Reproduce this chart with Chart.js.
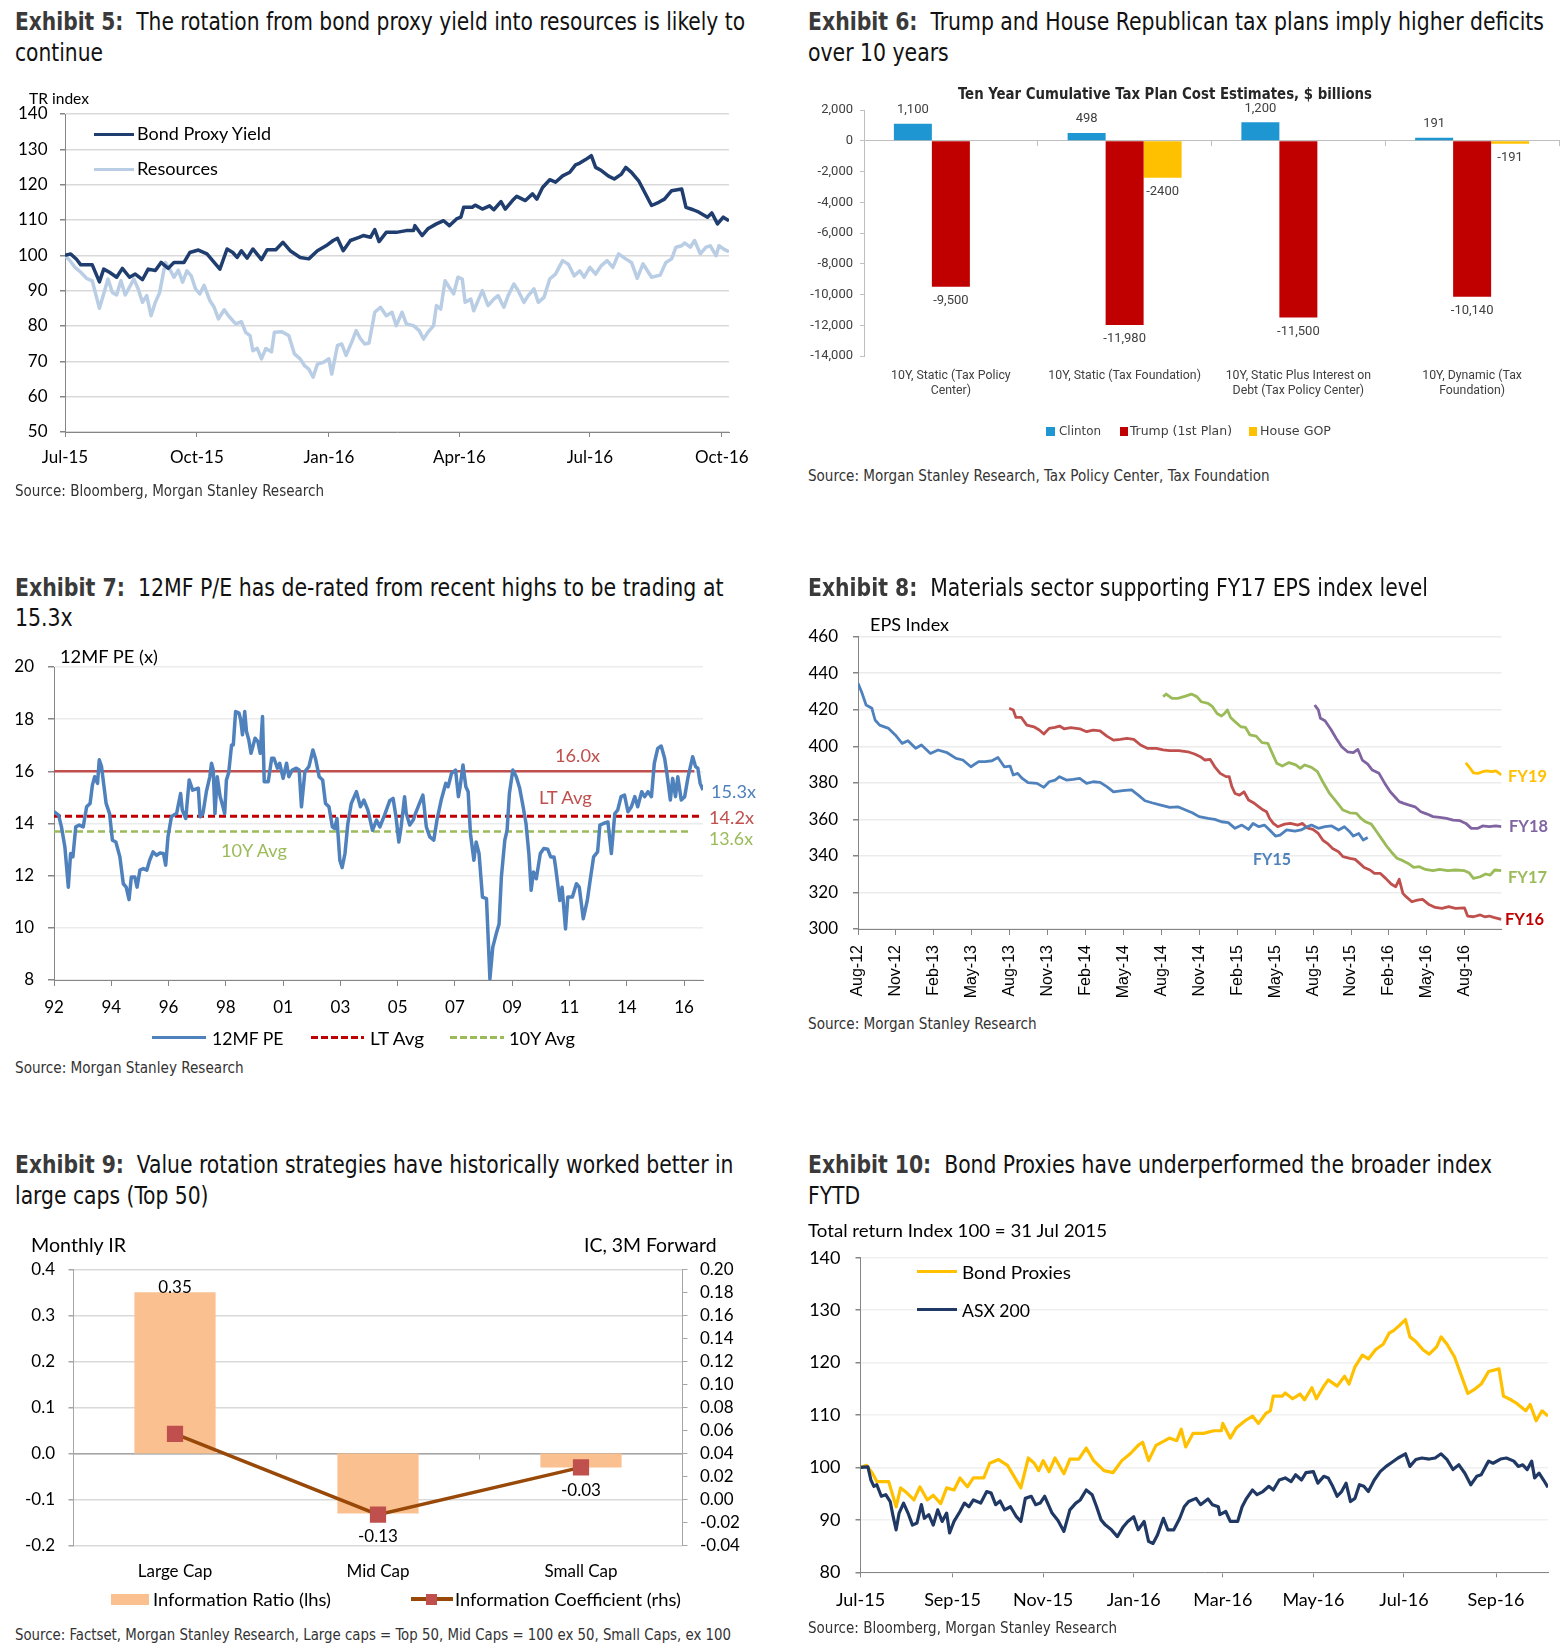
<!DOCTYPE html>
<html>
<head>
<meta charset="utf-8">
<title>Exhibits 5-10</title>
<script src="https://cdn.jsdelivr.net/npm/chart.js@4.4.1/dist/chart.umd.min.js"></script>
<style>
  html, body { margin: 0; padding: 0; background: #fff; }
  body { position: relative; width: 1566px; height: 1652px; overflow: hidden; font-family: Lato, sans-serif; color: #000; }
  canvas { position: absolute; }
  .tx { position: absolute; white-space: nowrap; line-height: 1.15; transform-origin: 0 50%; font-size: 17px; }
  .ttl { font-family: "Liberation Sans Narrow", "Arial Narrow", "DejaVu Sans Condensed", Roboto, sans-serif; font-size: 24px; color: #111; }
  .ttl b { color: #3a3a3a; }
  .src { font-family: "Liberation Sans Narrow", "Arial Narrow", "DejaVu Sans Condensed", Roboto, sans-serif; font-size: 15.5px; color: #333; }
  .nar { font-family: "Liberation Sans Narrow", "Arial Narrow", "DejaVu Sans Condensed", Roboto, sans-serif; }
  .sw { position: absolute; }
</style>
</head>
<body>
<canvas id="c5" width="783" height="415" style="left:0;top:95px"></canvas>
<canvas id="c6" width="783" height="380" style="left:783px;top:75px"></canvas>
<canvas id="c7" width="783" height="410" style="left:0;top:640px"></canvas>
<canvas id="c8" width="783" height="410" style="left:783px;top:600px"></canvas>
<canvas id="c9" width="783" height="390" style="left:0;top:1235px"></canvas>
<canvas id="c10" width="783" height="400" style="left:783px;top:1240px"></canvas>
<script>
// ---- data ----
// exhibit 5 / 10 : [days since 1 Jul 2015, index]
const bondProxy = [[0,100.0],[4,100.4],[8,98.9],[11,97.3],[19,97.3],[24,92.5],[27,96.1],[31,95.2],[36,93.8],[40,96.3],[45,93.8],[49,94.7],[54,93.1],[58,96.1],[63,95.7],[67,98.0],[72,96.3],[76,98.0],[83,98.0],[87,100.8],[93,101.5],[99,100.4],[104,98.0],[108,96.1],[113,101.8],[117,100.8],[120,99.4],[123,101.3],[127,99.2],[131,101.8],[137,98.8],[141,101.6],[147,101.6],[152,103.7],[157,101.3],[164,99.4],[170,99.0],[176,101.3],[182,102.7],[187,104.2],[190,104.8],[194,101.3],[199,104.2],[205,105.1],[208,105.6],[213,105.1],[216,107.3],[219,103.9],[224,106.5],[231,106.5],[238,107.0],[243,107.0],[244,108.4],[249,105.6],[253,107.5],[259,108.9],[264,109.8],[268,108.4],[273,110.3],[276,110.8],[278,113.6],[284,113.6],[286,114.2],[291,113.1],[296,114.0],[299,112.9],[304,115.2],[307,113.1],[312,115.5],[315,116.7],[321,115.5],[326,117.4],[329,115.9],[333,119.2],[338,121.4],[342,120.7],[347,122.5],[352,123.5],[356,125.6],[359,126.1],[363,127.1],[367,128.2],[370,124.9],[374,124.0],[379,122.4],[383,121.6],[388,123.0],[391,124.9],[395,123.5],[400,121.1],[404,118.0],[409,114.1],[414,115.0],[418,115.9],[423,118.3],[430,118.8],[433,113.6],[438,112.9],[442,112.2],[448,110.8],[451,112.0],[455,108.9],[459,110.8],[463,109.8]];
const resources = [[0,100],[4,98.2],[7,96.6],[11,95.2],[15,93.5],[19,92.8],[24,85.0],[27,89.1],[30,93.3],[33,89.5],[36,88.8],[39,92.8],[42,88.8],[45,91.0],[48,93.3],[51,90.5],[54,86.7],[57,88.6],[60,82.9],[63,86.7],[66,89.5],[70,98.0],[73,96.1],[76,93.8],[79,95.8],[82,92.4],[85,95.6],[88,94.2],[91,90.5],[94,89.1],[97,91.5],[101,87.2],[104,85.3],[107,82.0],[111,84.6],[114,82.9],[119,80.6],[123,81.2],[126,78.2],[129,77.3],[131,73.0],[134,73.7],[137,70.7],[140,73.6],[144,72.7],[146,78.2],[151,78.4],[156,77.3],[160,72.1],[164,70.7],[167,68.8],[170,67.8],[173,65.5],[176,69.2],[180,69.7],[184,70.7],[186,66.4],[190,74.5],[193,74.9],[196,71.7],[200,75.5],[203,78.7],[206,76.4],[209,74.9],[212,75.2],[216,83.9],[220,85.3],[224,82.9],[228,83.9],[231,80.1],[235,83.9],[238,80.6],[243,80.1],[247,78.7],[250,76.3],[253,78.2],[257,80.1],[259,85.8],[262,84.8],[265,92.8],[268,90.9],[271,89.1],[274,93.8],[277,93.3],[279,86.7],[283,87.6],[285,84.3],[288,87.2],[291,90.0],[295,85.8],[299,87.6],[302,88.6],[306,85.3],[309,88.6],[313,91.9],[316,90.0],[320,86.7],[323,88.6],[327,90.5],[330,86.7],[334,88.1],[338,93.3],[342,94.7],[347,98.5],[351,97.5],[355,94.2],[359,95.6],[362,93.8],[366,96.6],[370,94.7],[374,97.1],[378,98.5],[382,96.6],[386,100.4],[391,99.0],[395,98.0],[399,93.5],[403,97.6],[409,93.8],[415,94.4],[419,98.0],[423,99.0],[426,102.3],[430,102.7],[432,103.5],[436,102.3],[439,104.2],[443,100.4],[447,102.3],[450,102.7],[454,99.9],[456,102.7],[460,101.6],[463,101.0]];
const asx200 = [[0,100.0],[5,100.1],[7,97.6],[9,96.4],[11,96.7],[14,94.5],[17,94.8],[20,93.5],[22,90.6],[24,88.1],[26,91.3],[29,93.2],[32,91.3],[35,89.0],[38,89.4],[41,92.9],[43,90.3],[46,91.0],[49,89.0],[52,91.9],[55,89.7],[58,91.3],[60,87.5],[63,89.7],[67,91.6],[70,93.2],[73,92.5],[76,93.8],[81,93.2],[85,95.4],[88,95.1],[91,92.9],[94,93.6],[97,91.9],[101,92.5],[105,90.6],[108,89.7],[111,94.1],[115,94.5],[118,92.9],[121,93.2],[124,94.5],[129,91.3],[133,89.9],[137,87.8],[141,91.9],[145,93.2],[148,93.8],[152,95.7],[156,94.8],[159,92.5],[162,90.0],[165,89.0],[169,88.1],[173,86.8],[177,88.7],[180,89.7],[184,90.6],[187,88.1],[191,89.7],[194,85.9],[197,85.5],[200,87.1],[204,90.3],[207,88.1],[211,88.1],[215,90.3],[218,92.5],[221,93.5],[226,94.1],[229,92.9],[234,94.0],[237,92.9],[241,92.5],[242,91.0],[246,91.6],[249,89.7],[254,89.7],[257,92.5],[260,94.1],[264,95.7],[267,94.8],[271,95.4],[275,96.4],[278,95.7],[282,97.6],[286,98.0],[290,97.3],[293,98.6],[297,97.6],[300,99.0],[305,99.2],[308,97.0],[312,98.3],[315,98.0],[318,96.4],[321,94.5],[324,95.4],[327,97.0],[330,93.5],[333,94.1],[336,96.7],[339,96.4],[342,95.4],[346,97.6],[350,99.2],[354,100.2],[357,100.8],[362,101.8],[367,102.6],[370,100.2],[374,101.5],[378,101.8],[383,101.6],[387,101.8],[391,102.6],[395,101.5],[399,99.6],[403,100.5],[407,98.9],[411,96.7],[415,98.3],[418,98.6],[421,100.2],[423,101.2],[426,100.8],[431,101.6],[435,101.8],[440,101.2],[443,100.2],[446,100.5],[449,99.6],[452,101.2],[454,98.0],[457,98.9],[460,97.6],[463,96.2]];
const startDate = '2015-07-01';
const ticks5 = ['2015-07-01','2015-10-01','2016-01-01','2016-04-01','2016-07-01','2016-10-01'];
const labels5 = ['Jul-15','Oct-15','Jan-16','Apr-16','Jul-16','Oct-16'];
const ticks10 = ['2015-07-01','2015-09-01','2015-11-01','2016-01-01','2016-03-01','2016-05-01','2016-07-01','2016-09-01'];
const labels10 = ['Jul-15','Sep-15','Nov-15','Jan-16','Mar-16','May-16','Jul-16','Sep-16'];

// exhibit 6
const cats6 = [['10Y, Static (Tax Policy','Center)'], '10Y, Static (Tax Foundation)', ['10Y, Static Plus Interest on','Debt (Tax Policy Center)'], ['10Y, Dynamic (Tax','Foundation)']];
const clinton = [1100, 498, 1200, 191];
const trump = [-9500, -11980, -11500, -10140];
const houseGop = [null, -2400, null, -191];

// exhibit 7 : [position on year axis, P/E]
const peYears = ['92','94','96','98','01','03','05','07','09','11','14','16'];
const pe12mf = [[0,14.45],[0.08,14.32],[0.13,13.87],[0.19,13.10],[0.25,11.56],[0.29,12.85],[0.33,12.72],[0.38,13.87],[0.44,13.94],[0.51,13.87],[0.57,14.64],[0.63,14.77],[0.67,15.47],[0.71,15.79],[0.76,15.54],[0.79,16.44],[0.83,16.18],[0.87,15.47],[0.91,14.77],[0.97,14.38],[1.02,13.36],[1.08,13.29],[1.15,12.72],[1.21,11.69],[1.26,11.56],[1.31,11.08],[1.35,11.95],[1.41,11.95],[1.45,11.56],[1.50,12.21],[1.56,12.27],[1.62,12.21],[1.67,12.59],[1.73,12.91],[1.79,12.78],[1.85,12.87],[1.91,12.85],[1.95,12.40],[1.99,13.49],[2.05,14.26],[2.09,14.32],[2.14,14.38],[2.21,15.15],[2.24,14.51],[2.30,14.19],[2.36,15.67],[2.42,15.28],[2.52,15.35],[2.55,14.26],[2.60,14.38],[2.66,15.22],[2.72,15.79],[2.75,16.31],[2.78,16.05],[2.81,14.38],[2.85,15.79],[2.90,15.03],[2.95,14.64],[2.98,14.38],[3.01,15.67],[3.05,15.95],[3.10,17.01],[3.13,17.01],[3.17,18.29],[3.23,18.23],[3.26,17.97],[3.29,17.40],[3.33,18.29],[3.36,17.53],[3.40,17.21],[3.44,16.69],[3.51,17.27],[3.56,17.14],[3.60,16.69],[3.64,18.10],[3.67,15.60],[3.74,15.60],[3.80,16.50],[3.84,16.50],[3.90,16.12],[3.94,16.31],[4.00,15.73],[4.06,16.31],[4.10,15.79],[4.16,16.05],[4.23,16.12],[4.28,16.05],[4.32,14.64],[4.38,15.99],[4.45,16.18],[4.52,16.82],[4.57,16.44],[4.63,15.79],[4.69,15.67],[4.74,14.77],[4.80,14.64],[4.86,13.87],[4.90,13.81],[4.94,14.19],[4.99,12.59],[5.03,12.31],[5.08,12.85],[5.13,14.00],[5.19,14.77],[5.28,15.22],[5.35,14.64],[5.41,14.90],[5.48,14.51],[5.56,13.74],[5.63,14.13],[5.69,13.87],[5.77,14.32],[5.86,14.87],[5.92,14.96],[5.97,14.26],[6.02,13.29],[6.06,13.87],[6.12,15.03],[6.15,14.38],[6.21,13.94],[6.27,14.13],[6.31,14.38],[6.38,14.77],[6.44,15.09],[6.50,13.87],[6.56,13.49],[6.63,13.36],[6.69,14.19],[6.76,14.90],[6.84,15.54],[6.88,15.41],[6.94,15.92],[7.01,16.05],[7.06,15.03],[7.09,15.41],[7.14,16.24],[7.19,15.41],[7.23,15.22],[7.27,13.62],[7.33,12.59],[7.37,13.29],[7.42,12.85],[7.48,11.18],[7.55,11.12],[7.61,8.04],[7.66,9.26],[7.72,9.77],[7.77,10.15],[7.81,11.95],[7.87,13.36],[7.91,13.74],[7.95,15.15],[8.01,16.05],[8.07,15.79],[8.13,15.35],[8.19,14.64],[8.24,14.00],[8.29,12.85],[8.33,11.44],[8.37,12.14],[8.42,11.88],[8.49,12.85],[8.55,13.04],[8.62,13.01],[8.67,12.72],[8.73,12.72],[8.76,12.27],[8.83,11.05],[8.87,11.56],[8.93,9.96],[8.97,11.18],[9.05,11.18],[9.12,11.69],[9.17,11.56],[9.24,10.35],[9.31,11.05],[9.36,11.82],[9.42,12.72],[9.49,12.91],[9.53,13.94],[9.59,14.00],[9.67,14.06],[9.73,12.85],[9.79,14.38],[9.84,14.51],[9.90,15.03],[9.96,15.09],[10.02,14.45],[10.08,14.64],[10.14,15.03],[10.19,14.64],[10.26,15.22],[10.31,15.03],[10.37,15.22],[10.43,15.03],[10.48,16.31],[10.54,16.88],[10.60,16.97],[10.66,16.50],[10.70,15.92],[10.76,14.90],[10.80,15.73],[10.85,15.03],[10.89,15.79],[10.95,14.90],[11.01,15.03],[11.07,15.79],[11.11,16.18],[11.15,16.56],[11.20,16.18],[11.24,16.12],[11.28,15.54],[11.33,15.28]];
const peHigh = [[0,16.0],[11.18,16.0]];
const peLtAvg = [[0,14.28],[11.33,14.28]];
const pe10yAvg = [[0,13.69],[11.13,13.69]];

// exhibit 8 : [months since Aug-12, EPS index]
const labels8 = ['Aug-12','Nov-12','Feb-13','May-13','Aug-13','Nov-13','Feb-14','May-14','Aug-14','Nov-14','Feb-15','May-15','Aug-15','Nov-15','Feb-16','May-16','Aug-16'];
const fy15 = [[0,434.5],[0.28,429.9],[0.64,422.6],[1.10,420.8],[1.35,414.4],[1.71,411.6],[2.42,409.8],[2.95,406.2],[3.49,401.6],[3.95,403.1],[4.56,398.9],[5.02,400.7],[5.73,396.1],[6.33,398.0],[7.05,396.5],[7.76,393.4],[8.29,392.5],[8.93,388.8],[9.54,391.6],[10.07,391.6],[10.60,392.1],[11.07,393.9],[11.57,388.8],[12.03,389.2],[12.28,384.3],[12.63,385.2],[12.99,382.4],[13.45,380.1],[14.16,379.7],[14.70,377.5],[15.12,380.6],[15.59,381.5],[15.94,383.4],[16.48,381.5],[17.01,381.9],[17.54,382.4],[18.08,379.7],[18.61,380.6],[19.15,380.3],[19.68,377.9],[20.21,375.1],[20.93,375.7],[21.64,376.1],[22.17,373.3],[22.70,370.2],[23.24,369.1],[23.95,367.8],[24.66,366.6],[25.30,366.9],[25.91,365.1],[26.44,363.6],[26.98,361.5],[27.69,360.5],[28.22,360.0],[28.75,358.7],[29.29,358.2],[29.82,355.1],[30.36,356.9],[30.89,354.5],[31.25,357.8],[31.71,356.0],[32.14,356.9],[32.56,354.2],[33.02,350.9],[33.38,351.4],[33.91,354.2],[34.56,353.6],[35.05,354.2],[35.52,356.0],[35.87,356.9],[36.41,355.1],[36.94,356.0],[37.47,356.4],[38.01,354.2],[38.47,356.0],[38.90,353.2],[39.18,350.9],[39.61,352.3],[39.96,348.7],[40.32,350.1]];
const fy16 = [[11.96,420.8],[12.28,419.9],[12.49,415.8],[12.92,415.8],[13.35,411.6],[13.91,410.7],[14.34,408.9],[14.70,406.7],[15.12,409.8],[15.59,410.4],[15.94,411.1],[16.30,409.6],[16.83,410.2],[17.54,409.6],[18.08,408.0],[18.61,408.9],[19.15,408.5],[19.68,405.6],[20.21,403.4],[20.75,403.8],[21.28,404.3],[21.81,403.8],[22.35,400.7],[22.88,398.9],[23.59,398.9],[24.13,398.0],[24.66,397.6],[25.37,397.6],[26.09,397.0],[26.62,395.8],[27.08,394.3],[27.44,392.5],[27.86,392.8],[28.22,388.8],[28.65,385.2],[29.11,383.4],[29.36,383.4],[29.57,377.9],[29.82,374.2],[30.18,373.3],[30.53,375.1],[30.89,370.6],[31.35,368.8],[31.71,366.9],[32.06,365.1],[32.31,364.2],[32.56,360.5],[32.85,357.8],[33.20,356.0],[33.74,357.4],[34.20,357.8],[34.80,356.9],[35.16,357.8],[35.52,355.4],[35.98,354.5],[36.41,352.3],[36.76,348.7],[37.12,346.9],[37.54,344.1],[38.01,342.3],[38.36,339.6],[38.90,338.7],[39.32,338.1],[39.68,335.9],[40.04,333.7],[40.50,332.3],[40.85,330.4],[41.32,330.4],[41.74,327.7],[42.17,324.6],[42.53,323.1],[42.81,327.2],[43.10,319.5],[43.35,317.7],[43.81,314.9],[44.24,315.8],[44.66,316.2],[45.12,313.6],[45.66,311.8],[46.19,311.3],[46.73,312.2],[47.26,311.3],[47.97,311.6],[48.22,307.1],[48.68,306.7],[49.22,307.7],[49.57,306.7],[49.93,307.1],[50.28,306.4],[50.89,305.3]];
const fy17 = [[24.13,427.2],[24.38,428.6],[24.84,426.2],[25.30,426.2],[25.91,427.5],[26.37,428.6],[26.80,427.2],[27.15,424.4],[27.69,423.5],[28.04,421.7],[28.40,418.0],[28.75,416.6],[29.00,418.0],[29.22,419.9],[29.47,415.8],[29.82,413.5],[30.28,410.7],[30.64,410.4],[31.00,406.2],[31.49,405.6],[31.96,402.0],[32.42,401.6],[32.77,396.1],[33.13,390.7],[33.56,389.2],[34.09,391.1],[34.63,389.8],[34.98,387.9],[35.34,389.8],[35.87,388.5],[36.34,386.1],[36.76,380.6],[37.30,374.2],[37.83,369.7],[38.36,365.1],[38.90,363.6],[39.43,363.3],[39.79,360.5],[40.14,358.7],[40.60,357.4],[41.03,353.2],[41.39,349.6],[41.81,345.4],[42.17,342.3],[42.63,338.7],[43.10,337.4],[43.52,335.9],[43.95,333.7],[44.41,334.1],[44.88,332.6],[45.48,331.9],[46.01,332.6],[46.65,331.9],[47.26,332.3],[47.97,331.9],[48.33,330.8],[48.68,327.7],[49.22,328.6],[49.64,330.1],[50.00,329.5],[50.36,332.3],[50.89,331.9]];
const fy18 = [[36.12,422.6],[36.41,419.9],[36.58,415.3],[36.94,414.0],[37.40,409.3],[37.83,404.3],[38.26,399.8],[38.72,397.0],[39.18,396.5],[39.54,398.3],[39.89,392.5],[40.32,390.3],[40.68,387.0],[41.21,385.2],[41.67,379.7],[42.10,375.1],[42.46,372.4],[42.81,369.7],[43.17,368.8],[43.60,367.8],[44.06,366.9],[44.52,364.2],[45.02,362.9],[45.48,361.5],[46.01,361.1],[46.55,360.5],[47.08,359.6],[47.62,359.3],[48.08,357.8],[48.51,355.1],[49.04,355.1],[49.40,356.4],[49.93,356.0],[50.46,356.4],[50.89,356.0]];
const fy19 = [[48.08,391.0],[48.33,388.8],[48.68,385.5],[49.04,385.2],[49.40,386.1],[49.75,386.6],[50.11,386.1],[50.46,386.6],[50.89,384.3]];

// exhibit 9
const cats9 = ['Large Cap', 'Mid Cap', 'Small Cap'];
const infoRatio = [0.35, -0.13, -0.03];
const infoCoef = [0.057, -0.013, 0.028];

// ---- helpers ----
Chart.defaults.font.family = 'Lato';
Chart.defaults.font.size = 17;
Chart.defaults.color = '#000';

const dayOf = d => Math.round((new Date(d) - new Date(startDate)) / 864e5);
const xy = arr => arr.map(p => ({x: p[0], y: p[1]}));
const fixW = w => s => { s.width = w; s.paddingTop = 0; s.paddingBottom = 0; };
const fixH = h => s => { s.height = h; s.paddingLeft = 0; s.paddingRight = 0; };
const setTicks = vals => s => { s.ticks = vals.map(v => ({value: v})); };

function line(label, data, color, width, extra) {
  return Object.assign({label, data: xy(data), borderColor: color, borderWidth: width,
    pointRadius: 0, tension: 0, borderJoinStyle: 'round', fill: false}, extra || {});
}
function baseOpts(pad) {
  return {
    responsive: false, animation: false, events: [],
    layout: {padding: pad},
    plugins: {legend: {display: false}, tooltip: {enabled: false}},
  };
}

// value labels next to bar ends
const barLabels = {
  id: 'barLabels',
  afterDatasetsDraw(chart, args, o) {
    const ctx = chart.ctx;
    ctx.save();
    ctx.font = o.font;
    ctx.fillStyle = o.color;
    ctx.textAlign = 'center';
    ctx.textBaseline = 'middle';
    chart.data.datasets.forEach((ds, di) => {
      if (ds.type === 'line') return;
      chart.getDatasetMeta(di).data.forEach((bar, i) => {
        const v = ds.data[i];
        if (v == null) return;
        ctx.fillText(o.fmt(v, di), bar.x, v >= 0 ? bar.y - o.up : bar.y + o.down);
      });
    });
    ctx.restore();
  }
};

// ---- Exhibit 5 ----
new Chart(document.getElementById('c5'), {
  type: 'line',
  data: {datasets: [
    line('Bond Proxy Yield', bondProxy, '#1f3d6e', 3.5),
    line('Resources', resources, '#b9cde5', 3.5)
  ]},
  options: Object.assign(baseOpts({left: 0, top: 19, right: 54, bottom: 38}), {
    scales: {
      x: {type: 'linear', min: 0, max: 463, afterBuildTicks: setTicks(ticks5.map(dayOf)),
        ticks: {autoSkip: false, maxRotation: 0, padding: 10, callback: (v, i) => labels5[i]},
        grid: {drawOnChartArea: false, tickLength: 5, tickColor: '#868686'},
        border: {color: '#868686'}, afterFit: fixH(40)},
      y: {min: 50, max: 140, ticks: {stepSize: 10, padding: 12.5},
        grid: {color: '#d9d9d9', lineWidth: 1.5, tickLength: 5, tickColor: '#868686'},
        border: {color: '#868686'}, afterFit: fixW(65)}
    }
  })
});

// ---- Exhibit 6 ----
new Chart(document.getElementById('c6'), {
  type: 'bar',
  data: {labels: cats6, datasets: [
    {label: 'Clinton', data: clinton, backgroundColor: '#1e96d2'},
    {label: 'Trump (1st Plan)', data: trump, backgroundColor: '#c00000'},
    {label: 'House GOP', data: houseGop, backgroundColor: '#ffc000'}
  ]},
  plugins: [barLabels],
  options: Object.assign(baseOpts({left: 0, top: 35, right: 7, bottom: 39}), {
    datasets: {bar: {categoryPercentage: 0.656, barPercentage: 1}},
    plugins: {legend: {display: false}, tooltip: {enabled: false},
      barLabels: {font: '13px Roboto', color: '#404040', up: 14, down: 14,
        fmt: (v, di) => di === 2 ? String(v) : v.toLocaleString('en-US')}},
    scales: {
      x: {type: 'category', position: {y: 0}, offset: true, ticks: {display: false},
        grid: {drawOnChartArea: false, offset: true, tickLength: 5, tickColor: '#bfbfbf'},
        border: {color: '#bfbfbf'}},
      x2: {type: 'category', labels: cats6, position: 'bottom', offset: true,
        grid: {display: false, drawTicks: false}, border: {display: false},
        ticks: {autoSkip: false, maxRotation: 0, minRotation: 0, padding: 12, color: '#404040',
          font: {family: 'Roboto', size: 12.3, lineHeight: 1.25}},
        afterFit: fixH(60)},
      y: {min: -14000, max: 2000,
        ticks: {stepSize: 2000, padding: 7, color: '#404040', font: {family: 'Roboto', size: 13},
          callback: v => v.toLocaleString('en-US')},
        grid: {drawOnChartArea: false, tickLength: 4, tickColor: '#bfbfbf'},
        border: {color: '#bfbfbf'}, afterFit: fixW(81)}
    }
  })
});

// ---- Exhibit 7 ----
new Chart(document.getElementById('c7'), {
  type: 'line',
  data: {datasets: [
    line('12MF PE', pe12mf, '#4f81bd', 3.5),
    line('16.0x', peHigh, '#c0504d', 2.5),
    line('LT Avg', peLtAvg, '#c00000', 3, {borderDash: [7, 4], borderCapStyle: 'butt'}),
    line('10Y Avg', pe10yAvg, '#9bbb59', 2.5, {borderDash: [7, 4], borderCapStyle: 'butt'})
  ]},
  options: Object.assign(baseOpts({left: 0, top: 27, right: 80, bottom: 30}), {
    scales: {
      x: {type: 'linear', min: 0, max: 11.33, afterBuildTicks: setTicks(peYears.map((y, i) => i)),
        ticks: {autoSkip: false, maxRotation: 0, padding: 11, callback: (v, i) => peYears[i]},
        grid: {drawOnChartArea: false, tickLength: 6, tickColor: '#868686'},
        border: {color: '#868686'}, afterFit: fixH(40)},
      y: {min: 8, max: 20, ticks: {stepSize: 2, padding: 14},
        grid: {color: '#ececec', lineWidth: 1.5, tickLength: 6, tickColor: '#868686'},
        border: {color: '#868686'}, afterFit: fixW(54)}
    }
  })
});

// ---- Exhibit 8 ----
new Chart(document.getElementById('c8'), {
  type: 'line',
  data: {datasets: [
    line('FY15', fy15, '#4f81bd', 2.8),
    line('FY16', fy16, '#c0504d', 2.8),
    line('FY17', fy17, '#9bbb59', 2.8),
    line('FY18', fy18, '#8064a2', 2.8),
    line('FY19', fy19, '#ffc000', 2.8)
  ]},
  options: Object.assign(baseOpts({left: 0, top: 36.7, right: 64.5, bottom: 11}), {
    scales: {
      x: {type: 'linear', min: 0, max: 50.9, afterBuildTicks: setTicks(labels8.map((l, i) => i * 3)),
        ticks: {autoSkip: false, minRotation: 90, maxRotation: 90, padding: 10,
          font: {family: '"Liberation Sans", Arial, sans-serif', size: 16},
          callback: (v, i) => labels8[i]},
        grid: {drawOnChartArea: false, tickLength: 6, tickColor: '#868686'},
        border: {color: '#868686'}, afterFit: fixH(70)},
      y: {min: 300, max: 460, ticks: {stepSize: 20, padding: 15},
        grid: {color: '#ececec', lineWidth: 1.5, tickLength: 5, tickColor: '#868686'},
        border: {color: '#868686'}, afterFit: fixW(75)}
    }
  })
});

// ---- Exhibit 9 ----
const fix = (v, n) => (Math.abs(v) < 1e-9 ? 0 : v).toFixed(n);
new Chart(document.getElementById('c9'), {
  type: 'bar',
  data: {labels: cats9, datasets: [
    {type: 'line', label: 'Information Coefficient (rhs)', data: infoCoef, yAxisID: 'y1',
      borderColor: '#984807', borderWidth: 3.5, tension: 0, pointStyle: 'rect', pointRadius: 9,
      pointBackgroundColor: '#c0504d', pointBorderColor: '#c0504d', order: 0},
    {type: 'bar', label: 'Information Ratio (lhs)', data: infoRatio, yAxisID: 'y',
      backgroundColor: '#fac090', categoryPercentage: 0.4, barPercentage: 1, order: 1}
  ]},
  plugins: [barLabels],
  options: Object.assign(baseOpts({left: 0, top: 34.3, right: 0, bottom: 29.3}), {
    plugins: {legend: {display: false}, tooltip: {enabled: false},
      barLabels: {font: '17px Lato', color: '#000', up: 5, down: 23, fmt: v => v.toFixed(2)}},
    scales: {
      x: {type: 'category', position: {y: 0}, offset: true, ticks: {display: false},
        grid: {drawOnChartArea: false, offset: true, tickLength: 5, tickColor: '#a6a6a6'},
        border: {color: '#a6a6a6', width: 1.5}},
      x2: {type: 'category', labels: cats9, position: 'bottom', offset: true,
        grid: {display: false, drawTicks: false}, border: {display: false},
        ticks: {autoSkip: false, maxRotation: 0, padding: 15.8}, afterFit: fixH(50)},
      y: {position: 'left', min: -0.2, max: 0.4,
        ticks: {stepSize: 0.1, padding: 13.5, callback: v => fix(v, 1)},
        grid: {color: '#d9d9d9', lineWidth: 1.5, tickLength: 5, tickColor: '#a6a6a6'},
        border: {color: '#a6a6a6'}, afterFit: fixW(73.5)},
      y1: {position: 'right', min: -0.04, max: 0.2,
        ticks: {stepSize: 0.02, autoSkip: false, maxTicksLimit: 20, padding: 12.5, callback: v => fix(v, 2)},
        grid: {drawOnChartArea: false, tickLength: 5, tickColor: '#a6a6a6'},
        border: {color: '#a6a6a6'}, afterFit: fixW(100.5)}
    }
  })
});

// ---- Exhibit 10 ----
new Chart(document.getElementById('c10'), {
  type: 'line',
  data: {datasets: [
    line('ASX 200', asx200, '#1f3864', 3.2),
    line('Bond Proxies', bondProxy, '#ffc000', 3.2)
  ]},
  options: Object.assign(baseOpts({left: 0, top: 17.7, right: 18, bottom: 27.7}), {
    scales: {
      x: {type: 'linear', min: 0, max: 463, afterBuildTicks: setTicks(ticks10.map(dayOf)),
        ticks: {autoSkip: false, maxRotation: 0, padding: 12, font: {size: 18}, callback: (v, i) => labels10[i]},
        grid: {drawOnChartArea: false, tickLength: 5, tickColor: '#868686'},
        border: {color: '#868686'}, afterFit: fixH(40)},
      y: {min: 80, max: 140, ticks: {stepSize: 10, padding: 15, font: {size: 18}},
        grid: {color: '#f0f0f0', lineWidth: 1.5, tickLength: 5, tickColor: '#868686'},
        border: {color: '#868686'}, afterFit: fixW(77.5)}
    }
  })
});

// ---- text ----
function put(x, y, html, cls, o) {
  o = o || {};
  const d = document.createElement('div');
  d.className = 'tx' + (cls ? ' ' + cls : '');
  d.innerHTML = html;
  d.style.left = x + 'px';
  d.style.top = y + 'px';
  if (o.size) d.style.fontSize = o.size + 'px';
  if (o.color) d.style.color = o.color;
  if (o.bold) d.style.fontWeight = 'bold';
  document.body.appendChild(d);
  let k = o.k || 1;
  if (o.w) k = o.w / d.getBoundingClientRect().width;
  const c = o.align === 'c';
  if (c) d.style.transformOrigin = '50% 50%';
  d.style.transform = (c ? 'translate(-50%,-50%)' : 'translateY(-50%)') + ' scaleX(' + k.toFixed(4) + ')';
  return k;
}
function sw(x1, x2, y, h, bg) {
  const d = document.createElement('div');
  d.className = 'sw';
  d.style.cssText = 'left:' + x1 + 'px;top:' + (y - h / 2) + 'px;width:' + (x2 - x1) + 'px;height:' + h + 'px;background:' + bg;
  document.body.appendChild(d);
}
const dash = c => 'repeating-linear-gradient(90deg,' + c + ' 0 7px,transparent 7px 10px)';

let k;
// 5
k = put(15, 23, '<b>Exhibit 5:</b>&nbsp; The rotation from bond proxy yield into resources is likely to', 'ttl', {w: 730});
put(15, 54, 'continue', 'ttl', {k});
put(29, 99, 'TR index', '', {size: 15, w: 60});
sw(94, 134, 134.3, 3.5, '#1f3d6e');
put(137, 134.3, 'Bond Proxy Yield', '', {w: 134});
sw(94, 134, 169.3, 3.5, '#b9cde5');
put(137, 169.3, 'Resources', '', {w: 81});
put(15, 492, 'Source: Bloomberg, Morgan Stanley Research', 'src', {w: 309});

// 6
k = put(808, 23, '<b>Exhibit 6:</b>&nbsp; Trump and House Republican tax plans imply higher deficits', 'ttl', {w: 736});
put(808, 54, 'over 10 years', 'ttl', {k});
put(1165, 94.5, 'Ten Year Cumulative Tax Plan Cost Estimates, $ billions', 'nar', {size: 15, bold: true, color: '#262626', w: 414, align: 'c'});
sw(1046, 1055, 431, 9, '#1e96d2');
put(1058.6, 431, 'Clinton', 'nar', {size: 13, color: '#404040', w: 42});
sw(1120, 1128, 431, 9, '#c00000');
put(1129.5, 431, 'Trump (1st Plan)', 'nar', {size: 13, color: '#404040', w: 102});
sw(1249, 1257, 431, 9, '#ffc000');
put(1259.5, 431, 'House GOP', 'nar', {size: 13, color: '#404040', w: 71});
put(808, 476.5, 'Source: Morgan Stanley Research, Tax Policy Center, Tax Foundation', 'src', {w: 461.5});

// 7
k = put(15, 589, '<b>Exhibit 7:</b>&nbsp; 12MF P/E has de-rated from recent highs to be trading at', 'ttl', {w: 708.5});
put(15, 619, '15.3x', 'ttl', {k});
put(60, 656, '12MF PE (x)', '', {size: 18, w: 98});
put(555, 754.5, '16.0x', '', {size: 18, color: '#c0504d', w: 45});
put(539, 796.5, 'LT Avg', '', {size: 18, color: '#c0504d', w: 53});
put(711, 790.5, '15.3x', '', {size: 18, color: '#4f81bd', w: 45});
put(709, 816.5, '14.2x', '', {size: 18, color: '#c0504d', w: 45});
put(709, 838, '13.6x', '', {size: 18, color: '#9bbb59', w: 44});
put(221, 850, '10Y Avg', '', {size: 18, color: '#9bbb59', w: 66});
sw(152, 206, 1037.5, 3.5, '#4f81bd');
put(212, 1037.5, '12MF PE', '', {size: 18, w: 71.5});
sw(311, 364, 1037.5, 3, dash('#c00000'));
put(370, 1037.5, 'LT Avg', '', {size: 18, w: 54});
sw(450, 504, 1037.5, 3, dash('#9bbb59'));
put(509, 1037.5, '10Y Avg', '', {size: 18, w: 66});
put(15, 1068.5, 'Source: Morgan Stanley Research', 'src', {w: 228.5});

// 8
put(808, 589, '<b>Exhibit 8:</b>&nbsp; Materials sector supporting FY17 EPS index level', 'ttl', {w: 620});
put(870, 624, 'EPS Index', '', {size: 18, w: 79});
put(1253, 859, 'FY15', '', {size: 17, bold: true, color: '#4f81bd', w: 38});
put(1508, 776, 'FY19', '', {size: 17, bold: true, color: '#ffc000', w: 39});
put(1509, 826, 'FY18', '', {size: 17, bold: true, color: '#8064a2', w: 39});
put(1508, 876.5, 'FY17', '', {size: 17, bold: true, color: '#9bbb59', w: 39});
put(1505, 918.5, 'FY16', '', {size: 17, bold: true, color: '#c00000', w: 39});
put(808, 1024.5, 'Source: Morgan Stanley Research', 'src', {w: 228.5});

// 9
k = put(15, 1165.5, '<b>Exhibit 9:</b>&nbsp; Value rotation strategies have historically worked better in', 'ttl', {w: 718.5});
put(15, 1196.5, 'large caps (Top 50)', 'ttl', {k});
put(31, 1244.7, 'Monthly IR', '', {size: 19, w: 95});
put(583.5, 1244.7, 'IC, 3M Forward', '', {size: 19, w: 132.5});
sw(111, 148.5, 1599, 11, '#fac090');
put(153, 1599, 'Information Ratio (lhs)', '', {size: 18, w: 178});
sw(411, 452.5, 1599, 3.5, '#984807');
sw(426, 437, 1599, 11, '#c0504d');
put(455, 1599, 'Information Coefficient (rhs)', '', {size: 18, w: 226});
put(15, 1635.7, 'Source: Factset, Morgan Stanley Research, Large caps = Top 50, Mid Caps = 100 ex 50, Small Caps, ex 100', 'src', {w: 716});

// 10
k = put(808, 1165.5, '<b>Exhibit 10:</b>&nbsp; Bond Proxies have underperformed the broader index', 'ttl', {w: 684});
put(808, 1196.5, 'FYTD', 'ttl', {k});
put(808, 1229.7, 'Total return Index 100 = 31 Jul 2015', '', {size: 18, w: 299});
sw(917, 957, 1271.5, 3.5, '#ffc000');
put(961.5, 1271.5, 'Bond Proxies', '', {size: 18, w: 109});
sw(917, 957, 1309.5, 3.5, '#1f3864');
put(961.5, 1309.5, 'ASX 200', '', {size: 18, w: 68});
put(808, 1629, 'Source: Bloomberg, Morgan Stanley Research', 'src', {w: 309});
</script>
</body>
</html>
